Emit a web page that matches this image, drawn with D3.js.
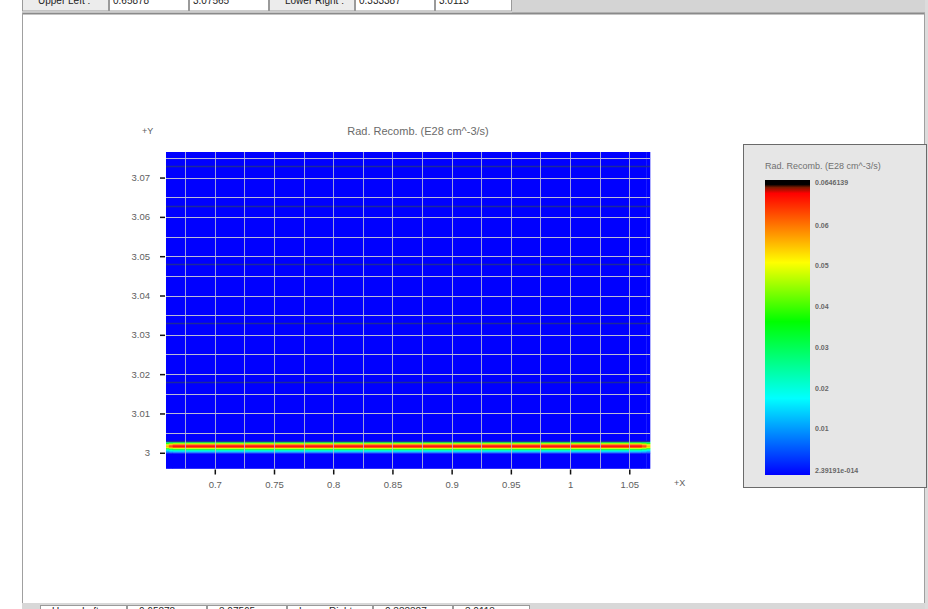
<!DOCTYPE html>
<html>
<head>
<meta charset="utf-8">
<script src="https://cdn.jsdelivr.net/npm/d3@7"></script>
<style>
  html, body { margin: 0; padding: 0; background: #ffffff; }
  svg { display: block; font-family: Arial, "Liberation Sans", sans-serif; }
</style>
</head>
<body>
<svg id="chart" width="928" height="609"></svg>
<script>
// ---- data ----
const chartTitle = "Rad. Recomb. (E28 cm^-3/s)";
const xDomain = [0.6588, 1.0675];
const yDomain = [2.996, 3.0765];
const xTicks = [0.7, 0.75, 0.8, 0.85, 0.9, 0.95, 1, 1.05];
const yTicks = [3, 3.01, 3.02, 3.03, 3.04, 3.05, 3.06, 3.07];
// light grid lines
const xGrid = [0.675, 0.7, 0.725, 0.75, 0.775, 0.8, 0.825, 0.85, 0.875, 0.9, 0.925, 0.95, 0.975, 1, 1.025, 1.05];
const yGrid = [3.005, 3.01, 3.015, 3.02, 3.025, 3.03, 3.035, 3.04, 3.045, 3.05, 3.055, 3.06, 3.065, 3.07, 3.075];
// region boundary lines
const yRegion = [3.0029, 3.0179, 3.0329, 3.0479, 3.0628, 3.0729];
// radiative recombination profile across y (row edges and row values)
const rowEdges = [2.996, 2.9999, 3.0001, 3.0003, 3.0005, 3.0007, 3.0009, 3.0011, 3.0013, 3.0015, 3.0017, 3.0019, 3.0021, 3.0023, 3.0025, 3.0027, 3.0029, 3.0765];
const rowValues = [0.0, 0.003, 0.009, 0.013, 0.018, 0.024, 0.033, 0.045, 0.057, 0.0635, 0.0646, 0.062, 0.054, 0.044, 0.034, 0.024, 0.0];
// column edges and scale factors along x
const colEdges = [0.6588, 0.6612, 0.6645, 1.0605, 1.0645, 1.0675];
const colFactors = [0.8, 0.93, 1.0, 0.93, 0.8];
// colour legend
const legendTitle = "Rad. Recomb. (E28 cm^-3/s)";
const legendMax = 0.0646139;
const legendMaxLabel = "0.0646139";
const legendMinLabel = "2.39191e-014";
const legendTicks = [0.01, 0.02, 0.03, 0.04, 0.05, 0.06];
// header / footer table cells
const headerCells = ["Upper Left :", "0.65878", "3.07565", "Lower Right :", "0.333387", "3.0113"];
const headerEdges = [22, 109, 189, 269, 355, 435, 512];

const svg = d3.select("#chart");

// ---- window frame ----
svg.append("rect").attr("x", 924).attr("y", 0).attr("width", 4).attr("height", 609).attr("fill", "#dcdcdc");
svg.append("rect").attr("x", 512).attr("y", 0).attr("width", 413).attr("height", 13).attr("fill", "#d4d4d4");
svg.append("line").attr("x1", 22).attr("x2", 925).attr("y1", 13.5).attr("y2", 13.5).attr("stroke", "#8a8a8a").attr("stroke-width", 2);
svg.append("line").attr("x1", 22.5).attr("x2", 22.5).attr("y1", 13).attr("y2", 604).attr("stroke", "#a0a0a0");
svg.append("line").attr("x1", 924.5).attr("x2", 924.5).attr("y1", 13).attr("y2", 604).attr("stroke", "#a0a0a0");
svg.append("rect").attr("x", 22).attr("y", 603).attr("width", 903).attr("height", 6).attr("fill", "#d8d8d8");

const clipTop = svg.append("clipPath").attr("id", "clipTop");
clipTop.append("rect").attr("x", 0).attr("y", 0).attr("width", 928).attr("height", 12);
const head = svg.append("g").attr("clip-path", "url(#clipTop)");
headerCells.forEach((t, i) => {
  const x0 = headerEdges[i], x1 = headerEdges[i + 1];
  const label = i === 0 || i === 3;
  head.append("rect").attr("x", x0 + 0.5).attr("y", -8).attr("width", x1 - x0 - 1).attr("height", 19)
    .attr("fill", label ? "#ececec" : "#ffffff").attr("stroke", "#9a9a9a");
  head.append("text").attr("x", label ? x0 + 16 : x0 + 4).attr("y", 4)
    .attr("font-size", 10).attr("fill", "#222").text(t);
});

const clipBot = svg.append("clipPath").attr("id", "clipBot");
clipBot.append("rect").attr("x", 0).attr("y", 605).attr("width", 928).attr("height", 4);
const foot = svg.append("g").attr("clip-path", "url(#clipBot)");
const footEdges = headerEdges.map(d => d + 18);
headerCells.forEach((t, i) => {
  const x0 = footEdges[i], x1 = footEdges[i + 1];
  foot.append("rect").attr("x", x0 + 0.5).attr("y", 605.5).attr("width", x1 - x0 - 1).attr("height", 19)
    .attr("fill", "#ffffff").attr("stroke", "#9a9a9a");
  foot.append("text").attr("x", x0 + 12).attr("y", 615).attr("font-size", 10).attr("fill", "#222").text(t);
});

// ---- scales ----
const plot = { left: 166, right: 650, top: 152, bottom: 468.5 };
const x = d3.scaleLinear().domain(xDomain).range([plot.left, plot.right]);
const y = d3.scaleLinear().domain(yDomain).range([plot.bottom, plot.top]);

const heatStops = [0, 0.25, 0.5, 0.72, 1.0];
const heatColors = ["#0000ff", "#00ffff", "#00ff00", "#ffff00", "#ff0000"];
const heat = d3.scaleLinear().domain(heatStops.map(t => t * legendMax)).range(heatColors).clamp(true);

// ---- heat map cells ----
const cells = [];
rowValues.forEach((v, r) => {
  colFactors.forEach((f, c) => {
    cells.push({ x0: colEdges[c], x1: colEdges[c + 1], y0: rowEdges[r], y1: rowEdges[r + 1], v: v * f });
  });
});
const field = svg.append("g");
field.selectAll("rect").data(cells).join("rect")
  .attr("x", d => x(d.x0))
  .attr("y", d => y(d.y1))
  .attr("width", d => x(d.x1) - x(d.x0) + 0.3)
  .attr("height", d => y(d.y0) - y(d.y1) + 0.3)
  .attr("fill", d => heat(d.v));

// ---- grid lines ----
const grid = svg.append("g");
grid.selectAll("line.rg").data(yRegion).join("line").attr("class", "rg")
  .attr("x1", plot.left).attr("x2", plot.right)
  .attr("y1", d => Math.round(y(d)) + 0.5).attr("y2", d => Math.round(y(d)) + 0.5)
  .attr("stroke", "#23328a").attr("stroke-width", 1.5).attr("opacity", 0.85);
grid.selectAll("line.gy").data(yGrid).join("line").attr("class", "gy")
  .attr("x1", plot.left).attr("x2", plot.right)
  .attr("y1", d => Math.round(y(d)) + 0.5).attr("y2", d => Math.round(y(d)) + 0.5)
  .attr("stroke", "#b9b9d6").attr("stroke-width", 1);
grid.selectAll("line.gx").data(xGrid).join("line").attr("class", "gx")
  .attr("x1", d => Math.round(x(d)) + 0.5).attr("x2", d => Math.round(x(d)) + 0.5)
  .attr("y1", plot.top).attr("y2", plot.bottom)
  .attr("stroke", "#b9b9d6").attr("stroke-width", 1).attr("opacity", 0.85);

// ---- axes ----
const axisColor = "#5e5e5e";
const xAxis = svg.append("g").attr("transform", `translate(0,${plot.bottom + 1})`)
  .call(d3.axisBottom(x).tickValues(xTicks).tickSize(5).tickPadding(7).tickFormat(d3.format("")));
const yAxis = svg.append("g").attr("transform", `translate(${plot.left - 1},0)`)
  .call(d3.axisLeft(y).tickValues(yTicks).tickSize(5).tickPadding(7).tickFormat(d3.format("")));
[xAxis, yAxis].forEach(a => {
  a.select(".domain").remove();
  a.selectAll(".tick line").attr("stroke", "#111").attr("stroke-width", 1.5);
  a.selectAll(".tick text").attr("fill", axisColor).attr("font-size", 9.5)
    .attr("font-family", "Arial, 'Liberation Sans', sans-serif");
});
yAxis.selectAll(".tick text").attr("dx", -3);

svg.append("text").attr("x", 142).attr("y", 134).attr("font-size", 9).attr("fill", axisColor).text("+Y");
svg.append("text").attr("x", 674).attr("y", 486).attr("font-size", 9).attr("fill", axisColor).text("+X");
svg.append("text").attr("x", 418).attr("y", 135).attr("text-anchor", "middle")
  .attr("font-size", 11).attr("fill", "#6a6a6a").text(chartTitle);

// ---- colour legend ----
const lg = svg.append("g");
lg.append("rect").attr("x", 743.5).attr("y", 144.5).attr("width", 183).attr("height", 343)
  .attr("fill", "#e6e6e6").attr("stroke", "#6a6a6a");
lg.append("text").attr("x", 765).attr("y", 169).attr("font-size", 9).attr("fill", "#707070").text(legendTitle);

const bar = { x: 765, w: 45, top: 180, bottom: 475 };
const grad = svg.append("defs").append("linearGradient").attr("id", "legendGrad")
  .attr("x1", 0).attr("y1", 1).attr("x2", 0).attr("y2", 0);
const gradStops = [
  [0, "#0000ff"], [0.26, "#00ffff"], [0.52, "#00ff00"], [0.72, "#ffff00"],
  [0.955, "#ff0000"], [0.975, "#7a1a00"], [0.985, "#000000"], [1, "#000000"]
];
grad.selectAll("stop").data(gradStops).join("stop")
  .attr("offset", d => d[0]).attr("stop-color", d => d[1]);
lg.append("rect").attr("x", bar.x).attr("y", bar.top).attr("width", bar.w).attr("height", bar.bottom - bar.top)
  .attr("fill", "url(#legendGrad)");

const ly = d3.scaleLinear().domain([0, 0.07]).range([469.7, 184.5]);
const lblStyle = s => s.attr("font-size", 7).attr("font-weight", "bold").attr("fill", "#666");
lg.selectAll("text.lt").data(legendTicks).join("text").attr("class", "lt")
  .attr("x", bar.x + bar.w + 5).attr("y", d => ly(d) + 2.5).text(d => d3.format("")(d)).call(lblStyle);
lg.append("text").attr("x", bar.x + bar.w + 5).attr("y", bar.top + 5).text(legendMaxLabel).call(lblStyle);
lg.append("text").attr("x", bar.x + bar.w + 5).attr("y", 472.5).text(legendMinLabel).call(lblStyle);
</script>
</body>
</html>
